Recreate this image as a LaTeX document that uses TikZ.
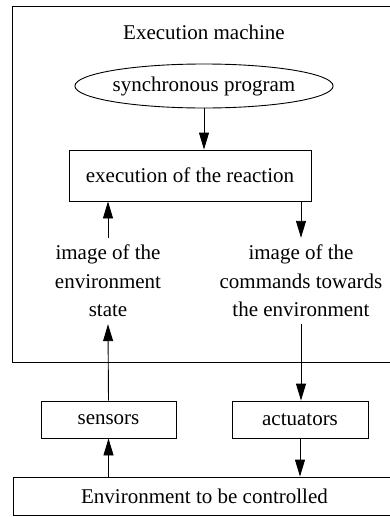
\documentclass[tikz,border=0pt]{standalone}
\usepackage{fontspec}
\setmainfont{Liberation Serif}
\usetikzlibrary{shapes.geometric,arrows.meta}
\begin{document}
\begin{tikzpicture}[x=1pt,y=-1pt,
  every node/.style={font=\fontsize{21}{28.5}\selectfont},
  box/.style={draw,line width=0.9pt,rectangle,inner sep=0},
  lbl/.style={align=center,inner sep=7pt},
  arr/.style={line width=0.9pt,-{Triangle[length=17pt,width=10pt]}},
  frame/.style={draw,line width=0.9pt}]
\useasboundingbox (0,0) rectangle (390,517);
\clip (0,0) rectangle (390,517);
\fill[white] (0,0) rectangle (390,517);
\draw[frame] (12.5,6.5) rectangle (397,362);
\node (title) at (204,32) {Execution machine};
\node[draw,line width=0.9pt,ellipse,minimum width=212pt,minimum height=44pt,inner sep=0] (sync) at (204,86) {synchronous program};
\node[box,minimum width=242pt,minimum height=51pt] (react) at (190,175.5) {execution of the reaction};
\node[lbl] (lblL) at (108,281) {image of the\\environment\\state};
\node[lbl] (lblR) at (301,281) {image of the\\commands towards\\the environment};
\node[box,minimum width=135pt,minimum height=37pt] (sens) at (108.5,419.5) {sensors};
\node[box,minimum width=136pt,minimum height=37pt] (act) at (300,419.5) {actuators};
\node[box,minimum width=385pt,minimum height=38pt,anchor=west] (env) at (12.5,496) {};
\node (envtxt) at (204.5,496) {Environment to be controlled};
\draw[arr] (sync.south) -- (sync.south |- react.north);
\draw[arr] (lblL.north) -- (lblL.north |- react.south);
\draw[arr] (lblR.north |- react.south) -- (lblR.north);
\draw[arr] (sens.south |- env.north) -- (sens.south);
\draw[arr] (sens.north) -- (lblL.south);
\draw[arr] (lblR.south) -- (lblR.south |- act.north);
\draw[arr] (act.south) -- (act.south |- env.north);
\end{tikzpicture}
\end{document}
